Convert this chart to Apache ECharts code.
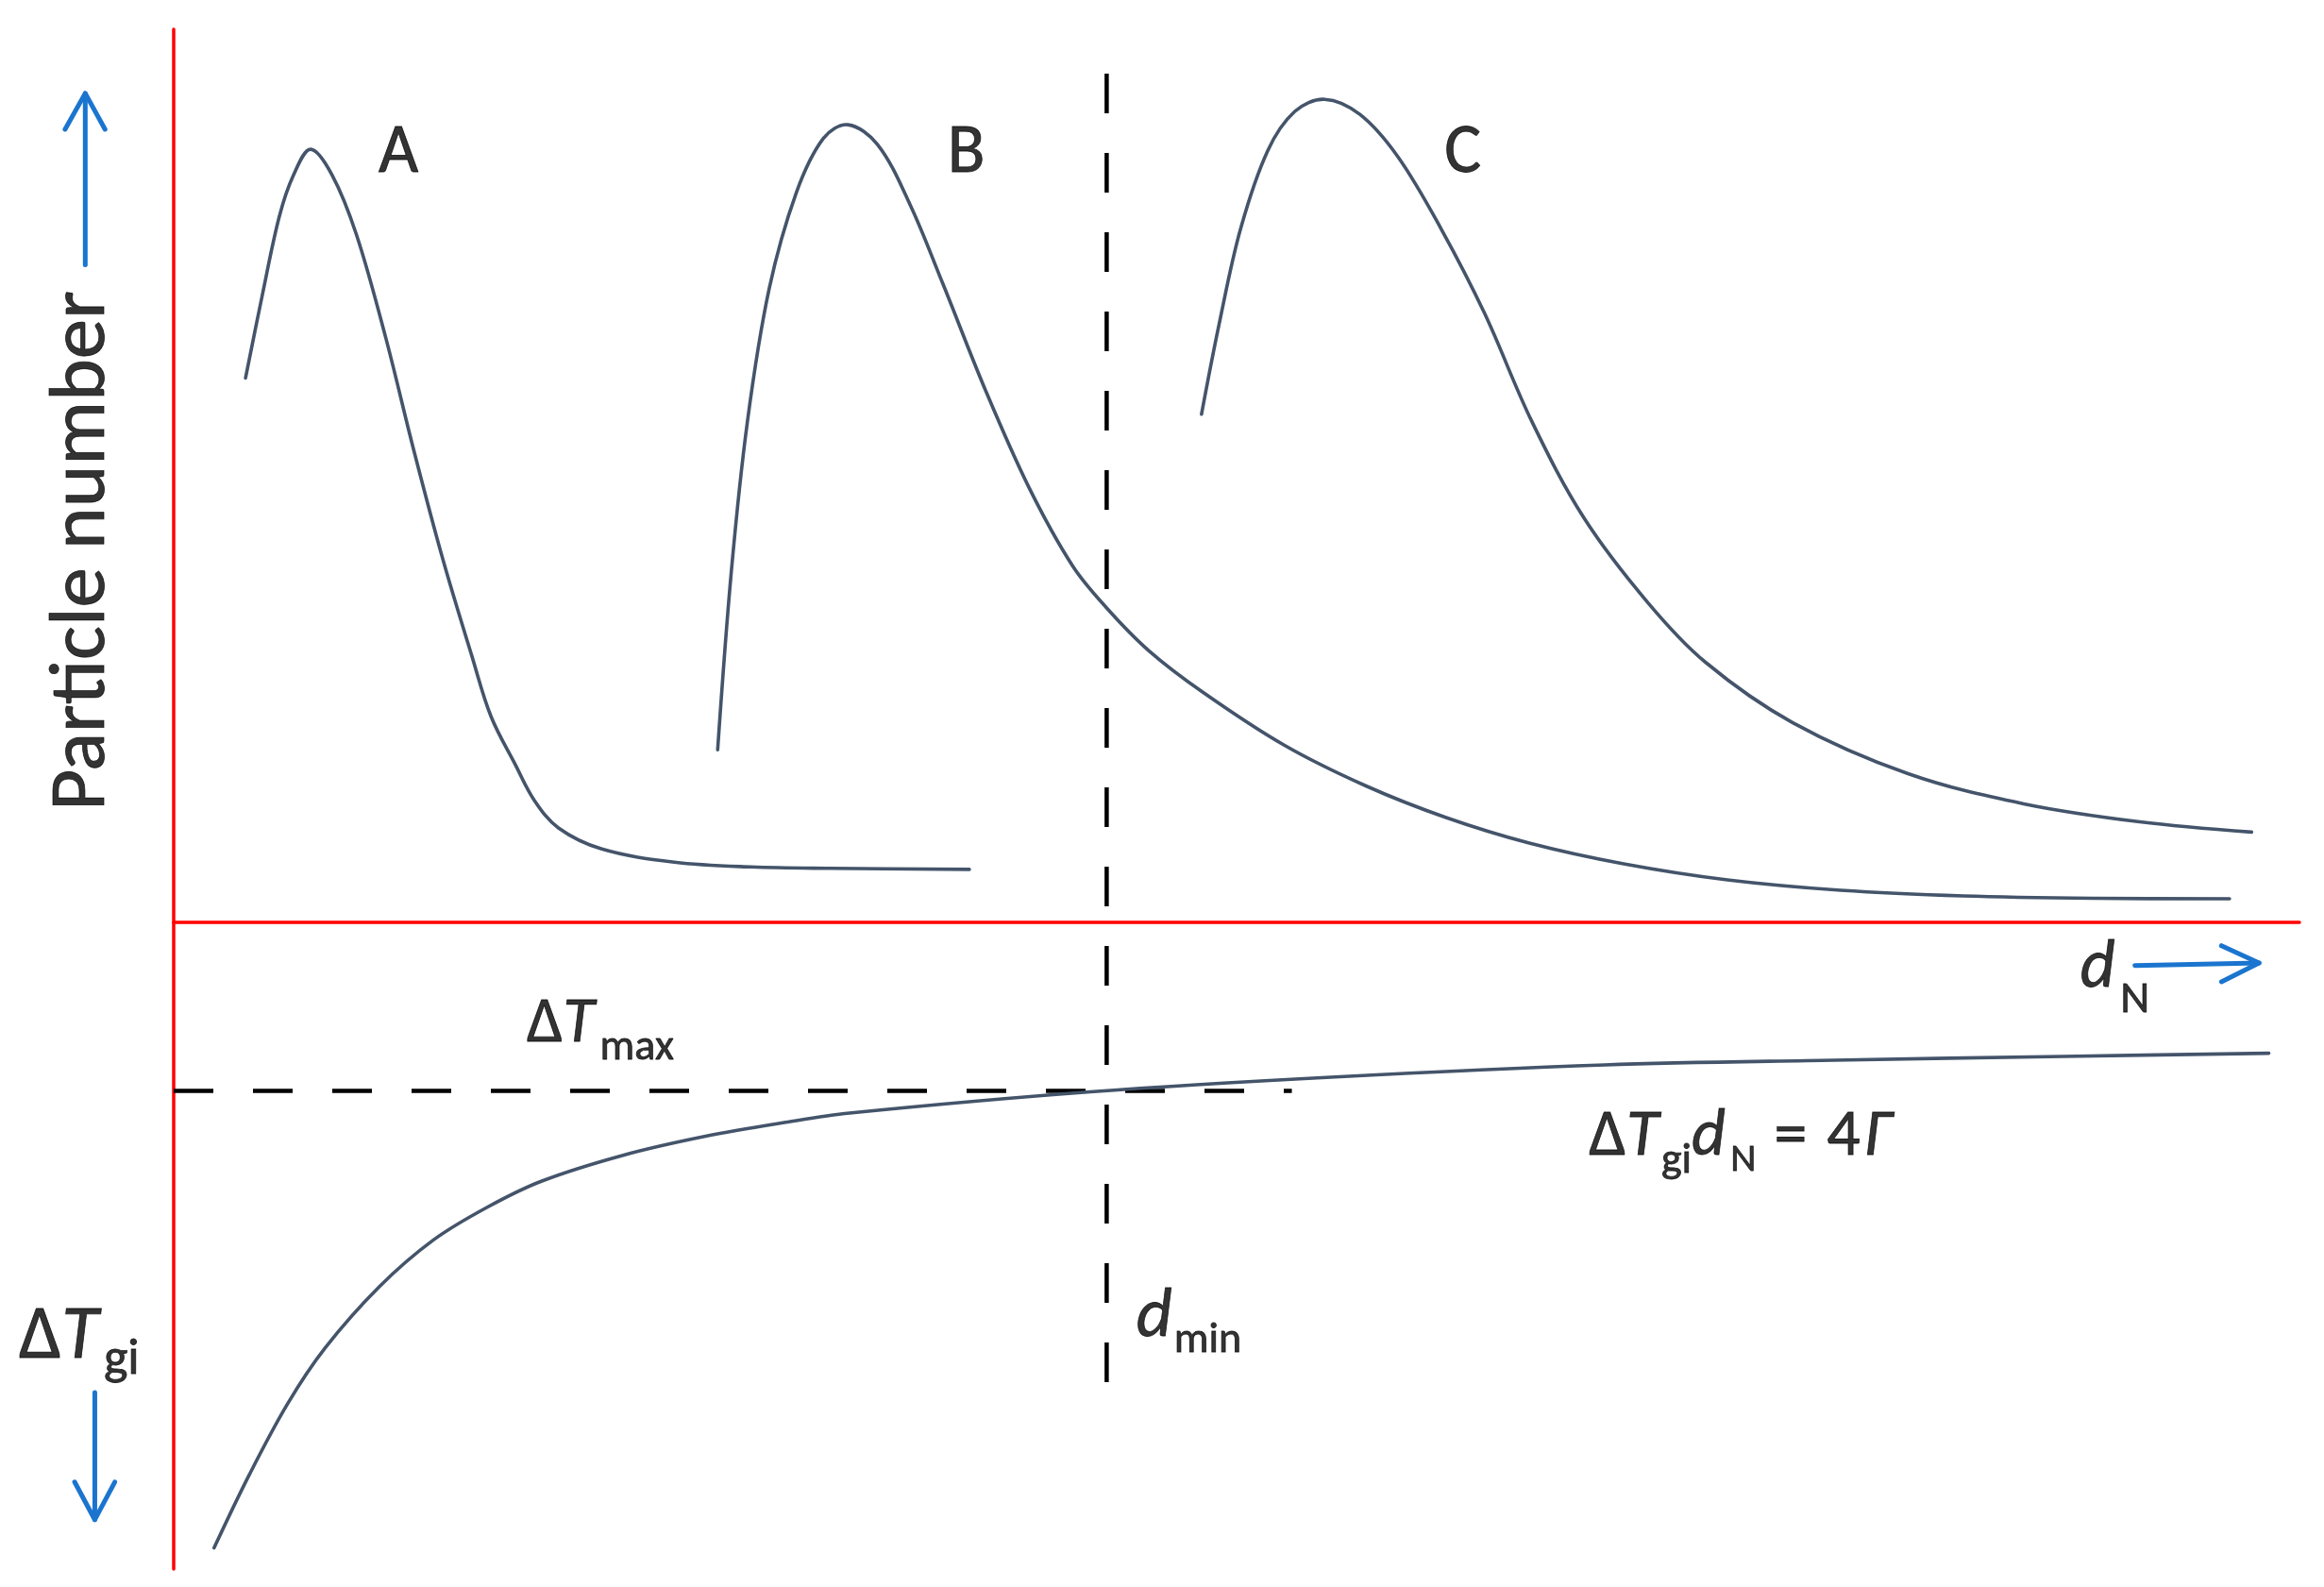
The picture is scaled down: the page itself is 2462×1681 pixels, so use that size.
<!DOCTYPE html>
<html><head><meta charset="utf-8">
<script src="https://cdn.jsdelivr.net/npm/echarts@6/dist/echarts.min.js"></script>
<style>html,body{margin:0;padding:0;background:#fff}#c{width:2462px;height:1681px}</style>
</head><body><div id="c"></div>
<script>
// Schematic: x = d_N (arbitrary units), y > 0 particle number, y < 0 ΔT_gi (grows downward)
const curveA = [[3.38,57.66],[4.17,66.45],[4.97,74.77],[5.64,79.17],[6.44,81.89],[7.45,79.17],[8.60,72.83],[9.96,62.06],[11.31,49.87],[12.67,38.39],[14.03,28.19],[14.93,21.8],[16.07,16.71],[16.97,12.91],[18.10,10.0],[20.14,7.77],[23.55,6.38],[27.17,5.87],[30.87,5.72],[37.43,5.61]];
const curveB = [[25.59,18.29],[26.23,37.1],[26.99,53.06],[28.01,67.08],[29.29,77.29],[30.56,83.03],[31.71,84.49],[33.11,82.39],[34.64,76.03],[36.17,67.72],[38.21,56.25],[40.24,46.04],[42.29,37.75],[43.89,33.3],[45.85,28.82],[48.40,24.4],[52.22,18.8],[56.04,14.5],[59.86,11.1],[63.77,8.4],[68.21,6.2],[73.09,4.5],[78.42,3.4],[84.19,2.8],[90.41,2.55],[96.71,2.5]];
const curveC = [[48.35,53.82],[49.17,63.26],[50.19,73.47],[51.47,81.76],[52.74,85.9],[54.14,87.18],[55.80,85.58],[57.58,81.12],[59.62,73.47],[61.66,64.54],[63.89,53.06],[66.34,42.85],[69.33,33.92],[72.06,27.55],[76.15,21.17],[81.59,15.75],[87.03,12.56],[92.49,10.65],[97.75,9.56]];
const curveT = [[1.90,-66.26],[3.55,-58.54],[5.34,-51.06],[7.12,-45.09],[9.67,-38.6],[12.22,-33.64],[14.77,-30.15],[17.32,-27.4],[21.14,-24.67],[24.97,-22.68],[28.79,-21.18],[31.79,-20.2],[43.12,-17.95],[54.44,-16.4],[67.32,-15.1],[78.11,-14.6],[88.90,-14.2],[98.56,-13.86]];

const dMin = 43.89;              // x of d_min
const dMinSpan = [89.9, -49.07]; // vertical extent of the d_min marker
const dTmax = -17.85;            // y of ΔT_max
const dTmaxEnd = 52.6;           // x end of the ΔT_max marker

const xRange = [-8.1705, 101.155];
const yRange = [-70.4, 97.7];
const axisV = [[0, 94.6], [0, -68.5]];   // particle-number / ΔT axis
const axisH = [[0, 0], [100, 0]];        // d_N axis

// arrows: shaft and open head
const arrowUp = {shaft: [[-4.16,69.64],[-4.16,87.81]], head: [[-5.11,84.0],[-4.16,87.81],[-3.23,84.0]]};
const arrowDown = {shaft: [[-3.71,-49.8],[-3.71,-63.27]], head: [[-4.66,-59.28],[-3.71,-63.27],[-2.77,-59.28]]};
const arrowRight = {shaft: [[92.26,-4.57],[98.1,-4.3]], head: [[96.33,-2.47],[98.1,-4.3],[96.33,-6.3]]};

// label anchor points
const posParticle = [-4.245, 39.35];
const posA = [10.57, 81.32], posB = [37.28, 81.32], posC = [60.64, 81.32];
const posTmax = [16.61, -10.93], posTmaxSub = [20.05, -13.32];
const posTgi = [-7.28, -44.13], posTgiSub = [-3.29, -46.45];
const posDmin = [45.28, -41.95], posDminSub = [47.06, -44.32];
const posDN = [89.69, -5.0], posDNSub = [91.57, -8.27];
const posEqDT = [66.58, -22.88], posEqGi = [69.98, -25.32], posEqD = [71.40, -22.88], posEqN = [73.24, -25.25];
const posEqEq = [75.29, -22.88], posEq4 = [77.76, -22.88], posEqG = [79.53, -22.88];

const FONT = "Carlito, 'Open Sans', sans-serif";
const LINE = '#44546A', RED = '#FF0000', BLUE = '#1B75CF';

function curve(data){
  return {type:'custom', coordinateSystem:'cartesian2d', data, encode:{x:0, y:1}, silent:true, z:3,
    renderItem: function(params, api){
      if (params.dataIndex !== 0) return null;
      return {type:'polyline', shape:{points: data.map(function(p){ return api.coord(p); }), smooth:0.35},
        style:{stroke:LINE, lineWidth:3.6, fill:'none', lineCap:'round', lineJoin:'round'}};
    }};
}
function seg(data, color, width, z){ return {type:'line', data, symbol:'none', clip:false, silent:true, lineStyle:{color, width, cap:'round', join:'round'}, z:z||4}; }
function dashed(data){ return {type:'line', data, symbol:'none', clip:false, silent:true, lineStyle:{color:'#000', width:4.5, type:[42,42], cap:'butt'}, z:2}; }
function tok(F, italic){ return {fontSize:F, lineHeight:F, fontFamily:FONT, color:'#000', fontStyle: italic?'italic':'normal', textBorderColor:'#000', textBorderWidth:0.8}; }
function text(pos, formatter, rich, opts){
  return {type:'scatter', data:[pos], symbolSize:0, clip:false, silent:true, z:5,
    label:Object.assign({show:true, position:'inside', formatter, rich, align:'left', verticalAlign:'middle', color:'#000'}, opts||{})};
}
function plain(pos, t, F, italic, opts){ return text(pos, '{a|'+t+'}', {a: tok(F, italic)}, opts); }

const series = [
  seg(axisV, RED, 3.5, 1), seg(axisH, RED, 3.5, 1),
  curve(curveA), curve(curveB), curve(curveC), curve(curveT),
  dashed([[dMin,dMinSpan[0]],[dMin,dMinSpan[1]]]),
  dashed([[0,dTmax],[dTmaxEnd,dTmax]]),
  seg(arrowUp.shaft, BLUE, 5), seg(arrowUp.head, BLUE, 5),
  seg(arrowDown.shaft, BLUE, 5), seg(arrowDown.head, BLUE, 5),
  seg(arrowRight.shaft, BLUE, 5), seg(arrowRight.head, BLUE, 5),
  plain(posParticle, 'Particle number', 85, false, {rotate:90, align:'center'}),
  plain(posA, 'A', 73, false, {align:'center'}),
  plain(posB, 'B', 73, false, {align:'center'}),
  plain(posC, 'C', 73, false, {align:'center'}),
  text(posTmax, '{m|Δ}{i|T}', {m: tok(68), i: tok(68,true)}),
  plain(posTmaxSub, 'max', 46),
  text(posTgi, '{m|Δ}{i|T}', {m: tok(80), i: tok(80,true)}),
  plain(posTgiSub, 'gi', 54),
  plain(posDmin, 'd', 74, true),
  plain(posDminSub, 'min', 46),
  plain(posDN, 'd', 72, true),
  plain(posDNSub, 'N', 48),
  text(posEqDT, '{m|Δ}{i|T}', {m: tok(70), i: tok(70,true)}),
  plain(posEqGi, 'gi', 46),
  plain(posEqD, 'd', 70, true),
  plain(posEqN, 'N', 42),
  plain(posEqEq, '=', 70),
  plain(posEq4, '4', 70),
  plain(posEqG, 'Γ', 70, true)
];

const chart = echarts.init(document.getElementById('c'), null, {renderer:'canvas'});
chart.setOption({
  animation:false,
  backgroundColor:'#ffffff',
  grid:{left:0, right:0, top:0, bottom:0, containLabel:false},
  xAxis:{type:'value', min:xRange[0], max:xRange[1], axisLine:{show:false}, axisTick:{show:false}, axisLabel:{show:false}, splitLine:{show:false}},
  yAxis:{type:'value', min:yRange[0], max:yRange[1], axisLine:{show:false}, axisTick:{show:false}, axisLabel:{show:false}, splitLine:{show:false}},
  series
});
</script></body></html>
